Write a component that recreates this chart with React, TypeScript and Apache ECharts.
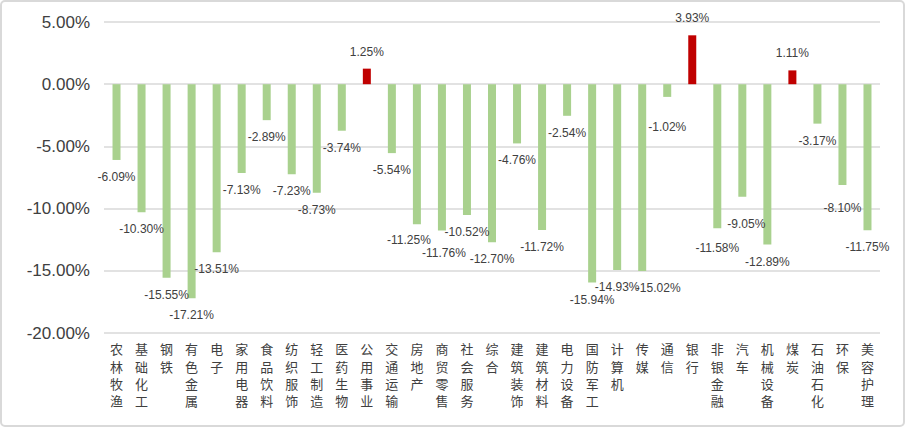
import React, { useEffect, useRef } from "react";
import * as echarts from "echarts";

const categories = [
  "农林牧渔", "基础化工", "钢铁", "有色金属", "电子", "家用电器", "食品饮料", "纺织服饰",
  "轻工制造", "医药生物", "公用事业", "交通运输", "房地产", "商贸零售", "社会服务", "综合",
  "建筑装饰", "建筑材料", "电力设备", "国防军工", "计算机", "传媒", "通信", "银行",
  "非银金融", "汽车", "机械设备", "煤炭", "石油石化", "环保", "美容护理",
];

const values = [
  -6.09, -10.3, -15.55, -17.21, -13.51, -7.13, -2.89, -7.23,
  -8.73, -3.74, 1.25, -5.54, -11.25, -11.76, -10.52, -12.7,
  -4.76, -11.72, -2.54, -15.94, -14.93, -15.02, -1.02, 3.93,
  -11.58, -9.05, -12.89, 1.11, -3.17, -8.1, -11.75,
];

const yTicks = [-20, -15, -10, -5, 0, 5];

// small manual nudges of data labels (as placed in the reference)
const labelNudge: Record<string, [number, number]> = {
  房地产: [-8, -1],
  商贸零售: [2, 5],
  传媒: [16, 0],
  通信: [0, 13],
  汽车: [4, 10],
  环保: [0, 6],
  非银金融: [0, 3],
};

export default function App() {
  const ref = useRef<HTMLDivElement>(null);
  useEffect(() => {
    if (!ref.current) return;
    const chart = echarts.init(ref.current, undefined, { renderer: "svg" });
    const font = "'Liberation Sans', Arial, 'Noto Sans CJK SC', sans-serif";
    chart.setOption({
      animation: false,
      textStyle: { fontFamily: font },
      graphic: [
        {
          type: "rect",
          shape: { x: 1, y: 1, width: 903, height: 425, r: 4 },
          style: { fill: "none", stroke: "#d9d9d9", lineWidth: 2 },
          silent: true,
        },
      ],
      grid: { left: 104, right: 26, top: 22, bottom: 95, containLabel: false },
      xAxis: {
        type: "category",
        data: categories,
        axisLine: { show: false, onZero: false },
        axisTick: { show: false },
        axisLabel: {
          interval: 0,
          margin: 7,
          fontSize: 13,
          lineHeight: 17.4,
          color: "#404040",
          fontFamily: "'Noto Sans CJK SC', sans-serif",
          formatter: (v: string) => v.split("").join("\n"),
        },
      },
      yAxis: {
        type: "value",
        min: yTicks[0],
        max: yTicks[yTicks.length - 1],
        interval: 5,
        axisLine: { show: false },
        axisTick: { show: false },
        splitLine: { lineStyle: { color: "#d9d9d9", width: 1.5 } },
        axisLabel: {
          fontSize: 17,
          color: "#404040",
          margin: 14,
          formatter: (v: number) => v.toFixed(2) + "%",
        },
      },
      series: [
        {
          type: "bar",
          barWidth: 8,
          data: values.map((v, i) => {
            const nudge = labelNudge[categories[i]] || [0, 0];
            return {
              value: v,
              itemStyle: { color: v >= 0 ? "#c00000" : "#a9d18e" },
              label: {
                show: true,
                position: v >= 0 ? "top" : "bottom",
                distance: 11,
                offset: nudge,
                fontSize: 12,
                color: "#404040",
                formatter: () => v.toFixed(2) + "%",
              },
            };
          }),
        },
      ],
    });
    return () => chart.dispose();
  }, []);
  return (
    <div
      ref={ref}
      style={{ position: "fixed", left: 0, top: 0, width: 906, height: 428, background: "#fff" }}
    />
  );
}
